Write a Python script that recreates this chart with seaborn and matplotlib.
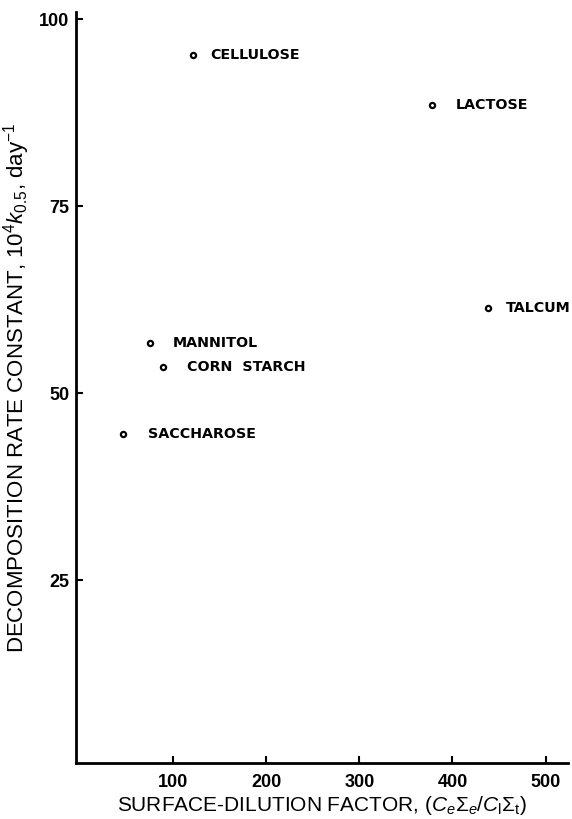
import matplotlib
matplotlib.use("Agg")
import matplotlib.pyplot as plt
import seaborn as sns
import pandas as pd

# data
materials = ["CELLULOSE", "LACTOSE", "TALCUM", "MANNITOL", "CORN  STARCH", "SACCHAROSE"]
dilution = [121.5, 377.6, 437.7, 75.6, 89.6, 46.3]
rate = [95.2, 88.5, 61.4, 56.7, 53.5, 44.5]
x_ticks = [100, 200, 300, 400, 500]
y_ticks = [25, 50, 75, 100]

df = pd.DataFrame({"material": materials, "x": dilution, "y": rate})

sns.set_style("ticks")
plt.rcParams["font.family"] = ["Liberation Sans", "DejaVu Sans"]
plt.rcParams["text.color"] = "black"
plt.rcParams["axes.labelcolor"] = "black"
plt.rcParams["mathtext.fontset"] = "custom"
plt.rcParams["mathtext.it"] = "Liberation Sans:italic"
plt.rcParams["mathtext.rm"] = "Liberation Sans"

fig = plt.figure(figsize=(5.72, 8.19), dpi=100)
ax = fig.add_axes([0.133, 0.068, 0.860, 0.917])

sns.scatterplot(data=df, x="x", y="y", ax=ax, marker="o", s=14,
                facecolor="white", edgecolor="black", linewidth=1.6, zorder=3)

label_dx = [17, 24, 18, 23, 24, 25]
for name, xv, yv, dx in zip(materials, dilution, rate, label_dx):
    ax.annotate(name, (xv, yv), xytext=(dx * 0.72, 0), textcoords="offset points",
                ha="left", va="center", fontsize=10.3, fontweight="bold",
                family="DejaVu Sans", color="black")

ax.set_xlim(-3.9, 524)
ax.set_ylim(0.5, 100.9)
ax.set_xticks(x_ticks)
ax.set_yticks(y_ticks)
ax.set_xticklabels([str(t) for t in x_ticks], fontsize=13, fontweight="bold")
ax.set_yticklabels([str(t) for t in y_ticks], fontsize=13, fontweight="bold")
ax.tick_params(axis="both", direction="in", length=5, width=1.5, pad=5, colors="black")
ax.tick_params(axis="x", pad=8)

for side in ["top", "right"]:
    ax.spines[side].set_visible(False)
for side in ["left", "bottom"]:
    ax.spines[side].set_linewidth(2)
    ax.spines[side].set_color("black")

ax.set_xlabel(r"SURFACE-DILUTION FACTOR, $(C_e\Sigma_e/C_\mathrm{l}\Sigma_\mathrm{t})$",
              fontsize=15, labelpad=2)
ax.set_ylabel(r"DECOMPOSITION RATE CONSTANT, $10^4k_{0.5}$, day$^{-1}$",
              fontsize=16, labelpad=5)

fig.savefig("out.png", dpi=100, facecolor="white")
